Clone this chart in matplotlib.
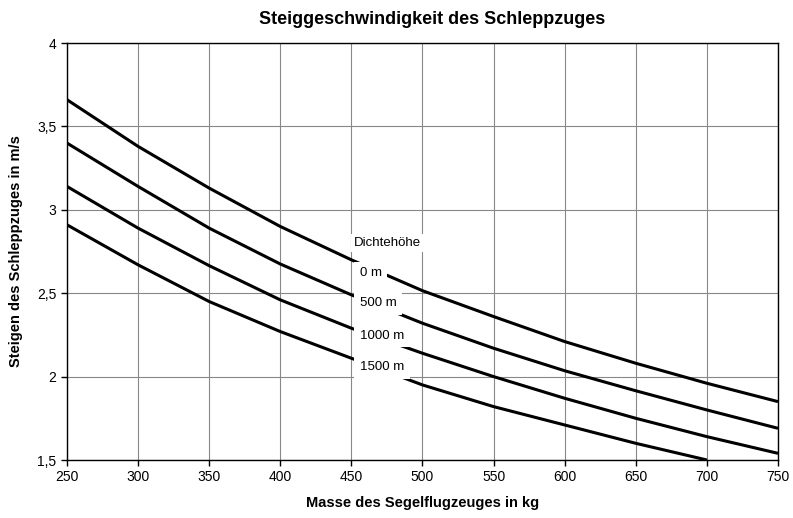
import matplotlib
matplotlib.use("Agg")
import matplotlib.pyplot as plt

plt.rcParams['font.family'] = ['Liberation Sans', 'DejaVu Sans']

masse = [250, 300, 350, 400, 450, 500, 550, 600, 650, 700, 750]
steigen_0 = [3.66, 3.38, 3.13, 2.90, 2.70, 2.515, 2.36, 2.21, 2.08, 1.96, 1.85]
steigen_500 = [3.40, 3.14, 2.89, 2.675, 2.49, 2.32, 2.17, 2.035, 1.915, 1.80, 1.69]
steigen_1000 = [3.14, 2.89, 2.665, 2.46, 2.29, 2.14, 2.00, 1.87, 1.75, 1.64, 1.54]
steigen_1500 = [2.91, 2.67, 2.45, 2.27, 2.11, 1.95, 1.82, 1.71, 1.60, 1.50]
series = [steigen_0, steigen_500, steigen_1000, steigen_1500]
labels = ["0 m", "500 m", "1000 m", "1500 m"]
label_y = [2.62, 2.44, 2.245, 2.055]

xticks = [250, 300, 350, 400, 450, 500, 550, 600, 650, 700, 750]
yticks = [1.5, 2, 2.5, 3, 3.5, 4]
ytick_labels = ["1,5", "2", "2,5", "3", "3,5", "4"]

fig = plt.figure(figsize=(7.93, 5.18), dpi=100)
ax = fig.add_axes([67/793, 58/518, 711/793, 417/518])

for ys in series:
    ax.plot(masse[:len(ys)], ys, color='black', lw=2.2, solid_capstyle='butt', zorder=3)

ax.set_xlim(250, 750)
ax.set_ylim(1.5, 4)
ax.set_xticks(xticks)
ax.set_yticks(yticks)
ax.set_yticklabels(ytick_labels)
ax.tick_params(axis='both', labelsize=10, length=4, width=1, direction='out')
ax.grid(True, color='#888888', lw=0.8, zorder=1)
for s in ax.spines.values():
    s.set_color('black')
    s.set_linewidth(1.0)

ax.text(452, 2.80, "Dichtehöhe", fontsize=9.5, ha='left', va='center', zorder=5,
        bbox=dict(facecolor='white', edgecolor='none', pad=2))
for lab, ly in zip(labels, label_y):
    ax.text(456, ly, lab, fontsize=9.5, ha='left', va='center', zorder=5,
            bbox=dict(facecolor='white', edgecolor='none', pad=4))

fig.text(432/793, 1 - 20/518, "Steiggeschwindigkeit des Schleppzuges", fontsize=13,
         fontweight='bold', ha='center', va='center')
ax.set_xlabel("Masse des Segelflugzeuges in kg", fontsize=10.5, fontweight='bold', labelpad=8)
ax.set_ylabel("Steigen des Schleppzuges in m/s", fontsize=10.5, fontweight='bold', labelpad=10)

fig.savefig("out.png", dpi=100)
